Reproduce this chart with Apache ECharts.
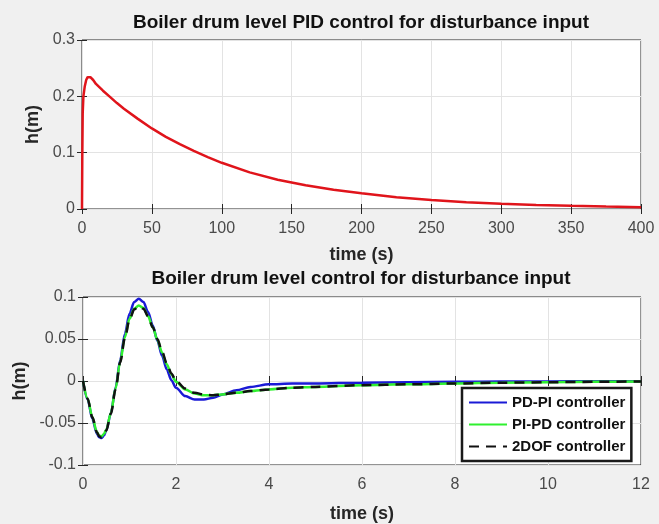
<!DOCTYPE html>
<html>
<head>
<meta charset="utf-8">
<script src="https://cdn.jsdelivr.net/npm/echarts@6/dist/echarts.min.js"></script>
<style>
  html, body { margin: 0; padding: 0; background: #f0f0f0; }
  #main { width: 659px; height: 524px; }
</style>
</head>
<body>
<div id="main"></div>
<script>
// top plot: PID response (time in s, level in m)
var pidTime = [0, 0.2, 0.5, 1, 2, 3, 4, 5, 6, 8, 10, 15, 20, 25, 30, 40, 50, 60, 70, 80, 90, 100,
  120, 140, 160, 180, 200, 225, 250, 275, 300, 325, 350, 375, 400];
var pidLevel = [0, 0.09, 0.17, 0.2, 0.218, 0.229, 0.234, 0.235, 0.234, 0.229, 0.222, 0.21, 0.199, 0.188,
  0.178, 0.16, 0.143, 0.128, 0.115, 0.103, 0.092, 0.082, 0.065, 0.052, 0.042, 0.034, 0.028, 0.021,
  0.016, 0.012, 0.0095, 0.0072, 0.0056, 0.0043, 0.0033];

// bottom plot: three controllers
var ctrlTime = [0, 0.1, 0.2, 0.3, 0.35, 0.4, 0.45, 0.5, 0.6, 0.7, 0.8, 0.9, 1.0, 1.1, 1.2, 1.3, 1.4, 1.5,
  1.6, 1.7, 1.8, 1.9, 2.0, 2.2, 2.4, 2.6, 2.8, 3.0, 3.3, 3.6, 4.0, 4.5, 5, 6, 7, 8, 9, 10, 11, 12];
var pdpi = [0, -0.022, -0.045, -0.063, -0.067, -0.068, -0.065, -0.059, -0.038, -0.008, 0.025, 0.056, 0.08,
  0.094, 0.098, 0.094, 0.082, 0.066, 0.048, 0.03, 0.014, 0.001, -0.008, -0.018, -0.022, -0.022, -0.02,
  -0.016, -0.011, -0.007, -0.004, -0.003, -0.003, -0.002, -0.0015, -0.001, -0.0007, -0.0005, -0.0003, -0.0002];
var pipd = [0, -0.021, -0.043, -0.061, -0.065, -0.066, -0.063, -0.058, -0.038, -0.009, 0.023, 0.052, 0.074,
  0.086, 0.09, 0.087, 0.077, 0.064, 0.049, 0.034, 0.02, 0.008, -0.001, -0.01, -0.015, -0.017, -0.017,
  -0.016, -0.014, -0.012, -0.01, -0.008, -0.007, -0.005, -0.004, -0.003, -0.002, -0.0015, -0.001, -0.0005];
var twoDof = [0, -0.021, -0.043, -0.061, -0.066, -0.067, -0.064, -0.059, -0.039, -0.01, 0.022, 0.051, 0.073,
  0.085, 0.089, 0.086, 0.077, 0.064, 0.05, 0.035, 0.021, 0.009, 0, -0.009, -0.014, -0.016, -0.017,
  -0.016, -0.014, -0.012, -0.01, -0.008, -0.007, -0.005, -0.004, -0.003, -0.002, -0.0015, -0.001, -0.0005];

var topTicksX = [0, 50, 100, 150, 200, 250, 300, 350, 400];
var topTicksY = [0, 0.1, 0.2, 0.3];
var botTicksX = [0, 2, 4, 6, 8, 10, 12];
var botTicksY = [-0.1, -0.05, 0, 0.05, 0.1];

function pairs(xs, ys) {
  return xs.map(function (x, i) { return [x, ys[i]]; });
}

var font = "Arial, 'Liberation Sans', sans-serif";

function mainX(grid, ticks, gap) {
  return {
    type: "value", gridIndex: grid,
    min: ticks[0], max: ticks[ticks.length - 1], interval: ticks[1] - ticks[0],
    name: "time (s)", nameLocation: "middle", nameGap: gap,
    nameTextStyle: { fontFamily: font, fontSize: 18, fontWeight: "bold", color: "#262626" },
    axisLine: { show: false },
    axisTick: { show: true, inside: true, length: 5, lineStyle: { color: "#262626" } },
    axisLabel: { fontFamily: font, fontSize: 16, color: "#4a4a4a", margin: 12 },
    splitLine: { show: true, lineStyle: { color: "#e3e3e3", width: 1 } },
  };
}
function mirrorX(grid, ticks) {
  return {
    type: "value", gridIndex: grid, position: "top",
    min: ticks[0], max: ticks[ticks.length - 1], interval: ticks[1] - ticks[0],
    axisLine: { show: false },
    axisTick: { show: true, inside: true, length: 5, lineStyle: { color: "#262626" } },
    axisLabel: { show: false },
    splitLine: { show: false },
  };
}
function mainY(grid, ticks, gap) {
  return {
    type: "value", gridIndex: grid,
    min: ticks[0], max: ticks[ticks.length - 1], interval: ticks[1] - ticks[0],
    name: "h(m)", nameLocation: "middle", nameGap: gap,
    nameTextStyle: { fontFamily: font, fontSize: 18, fontWeight: "bold", color: "#262626" },
    axisLine: { show: false },
    axisTick: { show: true, inside: true, length: 5, lineStyle: { color: "#262626" } },
    axisLabel: { fontFamily: font, fontSize: 16, color: "#4a4a4a", margin: 7 },
    splitLine: { show: true, lineStyle: { color: "#e3e3e3", width: 1 } },
  };
}
function mirrorY(grid, ticks) {
  return {
    type: "value", gridIndex: grid, position: "right",
    min: ticks[0], max: ticks[ticks.length - 1], interval: ticks[1] - ticks[0],
    axisLine: { show: false },
    axisTick: { show: true, inside: true, length: 5, lineStyle: { color: "#262626" } },
    axisLabel: { show: false },
    splitLine: { show: false },
  };
}

var chart = echarts.init(document.getElementById("main"));
var options = {
  backgroundColor: "#f0f0f0",
  animation: false,
  title: [
    {
      text: "Boiler drum level PID control for disturbance input",
      left: 361, top: 13, textAlign: "center", padding: 0,
      textStyle: { fontFamily: font, fontSize: 19, fontWeight: "bold", color: "#111" },
    },
    {
      text: "Boiler drum level control for disturbance input",
      left: 361, top: 269, textAlign: "center", padding: 0,
      textStyle: { fontFamily: font, fontSize: 19, fontWeight: "bold", color: "#111" },
    },
  ],
  grid: [
    { left: 82, right: 18, top: 40, height: 169, show: true, backgroundColor: "#fff", borderColor: "#262626", borderWidth: 1 },
    { left: 83, right: 18, top: 297, height: 168, show: true, backgroundColor: "#fff", borderColor: "#262626", borderWidth: 1 },
  ],
  xAxis: [mainX(0, topTicksX, 37), mirrorX(0, topTicksX), mainX(1, botTicksX, 40), mirrorX(1, botTicksX)],
  yAxis: [mainY(0, topTicksY, 36), mirrorY(0, topTicksY), mainY(1, botTicksY, 52), mirrorY(1, botTicksY)],
  legend: {
    data: ["PD-PI controller", "PI-PD controller", "2DOF controller"],
    orient: "vertical", left: 462, top: 388,
    itemWidth: 38, itemHeight: 14, itemGap: 7,
    padding: [7, 6, 7, 6],
    backgroundColor: "#fff", borderColor: "#1a1a1a", borderWidth: 2.5,
    itemStyle: { opacity: 0 },
    textStyle: { fontFamily: font, fontSize: 15, fontWeight: "bold", color: "#111" },
  },
  series: [
    {
      name: "PID", type: "line", xAxisIndex: 0, yAxisIndex: 0,
      data: pairs(pidTime, pidLevel), symbol: "none", smooth: false,
      lineStyle: { color: "#e0141b", width: 2.5 },
    },
    {
      name: "PD-PI controller", type: "line", xAxisIndex: 2, yAxisIndex: 2,
      data: pairs(ctrlTime, pdpi), symbol: "none", smooth: 0.3, smoothMonotone: "x",
      itemStyle: { color: "#1a1ad6" },
      lineStyle: { color: "#1a1ad6", width: 2.5 },
    },
    {
      name: "PI-PD controller", type: "line", xAxisIndex: 2, yAxisIndex: 2,
      data: pairs(ctrlTime, pipd), symbol: "none", smooth: 0.3, smoothMonotone: "x",
      itemStyle: { color: "#2ff02f" },
      lineStyle: { color: "#2ff02f", width: 2.5 },
    },
    {
      name: "2DOF controller", type: "line", xAxisIndex: 2, yAxisIndex: 2,
      data: pairs(ctrlTime, twoDof), symbol: "none", smooth: 0.3, smoothMonotone: "x",
      itemStyle: { color: "#111" },
      lineStyle: { color: "#111", width: 2.5, type: [10, 7] },
    },
  ],
};
chart.setOption(options, true);
</script>
</body>
</html>
